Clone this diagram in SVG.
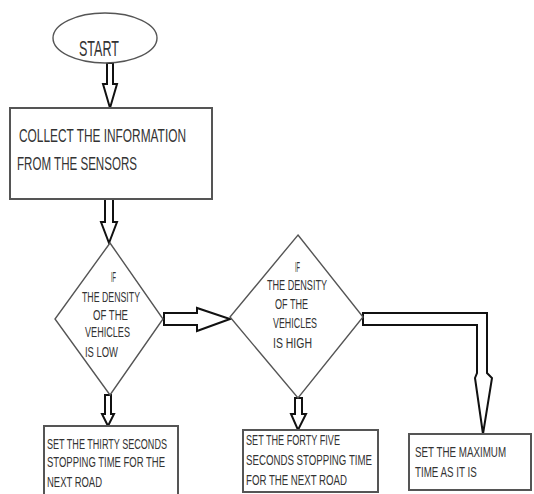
<svg xmlns="http://www.w3.org/2000/svg" width="534" height="494" viewBox="0 0 534 494">
<style>
  .shape { fill: #ffffff; stroke: #555555; stroke-width: 1.4; }
  .box { fill: #ffffff; stroke: #555555; stroke-width: 2; }
  .blk { fill: #ffffff; stroke: #111111; stroke-width: 2; stroke-linejoin: miter; }
  text { font-family: "Liberation Sans Narrow", "Liberation Sans", Arial, sans-serif; fill: #333333; }
  .t13 { font-size: 14px; }
  .t17 { font-size: 18px; }
</style>
<rect x="0" y="0" width="534" height="494" fill="#ffffff"/>
<g id="connectors">
  <polygon class="blk" points="107,63 113,63 113,84 117,84 110,108 103,84 107,84"/>
  <polygon class="blk" points="105,199 113,199 113,222 117,222 109,243 101,222 105,222"/>
  <polygon class="blk" points="164,313 197,313 197,308 230,319 197,331 197,325 164,325"/>
  <polygon class="blk" points="105,395 111,395 111,414 114,414 108,426 102,414 105,414"/>
  <polygon class="blk" points="295,398 302,398 302,414 306,414 298,430 291,414 295,414"/>
  <polygon class="blk" points="363,313 487,313 487,373 492,378 483,434 475,378 477,373 477,325 363,325"/>
</g>
<g id="start">
  <ellipse class="shape" cx="105" cy="38" rx="52" ry="25"/>
  <text x="79" y="56" font-size="22" textLength="40" lengthAdjust="spacingAndGlyphs">START</text>
</g>
<g id="collect">
  <rect class="box" x="10" y="108" width="202" height="91"/>
  <text class="t17" x="19" y="142" textLength="167" lengthAdjust="spacingAndGlyphs">COLLECT THE INFORMATION</text>
  <text class="t17" x="17" y="170" textLength="120" lengthAdjust="spacingAndGlyphs">FROM THE SENSORS</text>
</g>
<g id="decision-low">
  <polygon class="shape" points="110,243 163,319 110,395 55,319"/>
  <text class="t13" x="111" y="282" textLength="5" lengthAdjust="spacingAndGlyphs">IF</text>
  <text class="t13" x="82" y="302" textLength="58" lengthAdjust="spacingAndGlyphs">THE DENSITY</text>
  <text class="t13" x="93" y="320" textLength="35" lengthAdjust="spacingAndGlyphs">OF THE</text>
  <text class="t13" x="85" y="337" textLength="45" lengthAdjust="spacingAndGlyphs">VEHICLES</text>
  <text class="t13" x="85" y="357" textLength="33" lengthAdjust="spacingAndGlyphs">IS LOW</text>
</g>
<g id="decision-high">
  <polygon class="shape" points="298,235 363,317 298,398 230,317"/>
  <text class="t13" x="295" y="272" textLength="5" lengthAdjust="spacingAndGlyphs">IF</text>
  <text class="t13" x="267" y="290" textLength="60" lengthAdjust="spacingAndGlyphs">THE DENSITY</text>
  <text class="t13" x="275" y="309" textLength="33" lengthAdjust="spacingAndGlyphs">OF THE</text>
  <text class="t13" x="273" y="328" textLength="44" lengthAdjust="spacingAndGlyphs">VEHICLES</text>
  <text class="t13" x="273" y="348" textLength="39" lengthAdjust="spacingAndGlyphs">IS HIGH</text>
</g>
<g id="thirty">
  <rect class="box" x="44" y="426" width="134" height="72"/>
  <text class="t13" x="47" y="449" textLength="120" lengthAdjust="spacingAndGlyphs">SET THE THIRTY SECONDS</text>
  <text class="t13" x="47" y="467" textLength="118" lengthAdjust="spacingAndGlyphs">STOPPING TIME FOR THE</text>
  <text class="t13" x="47" y="487" textLength="55" lengthAdjust="spacingAndGlyphs">NEXT ROAD</text>
</g>
<g id="fortyfive">
  <rect class="box" x="243" y="430" width="135" height="62"/>
  <text class="t13" x="246" y="445" textLength="94" lengthAdjust="spacingAndGlyphs">SET THE FORTY FIVE</text>
  <text class="t13" x="246" y="465" textLength="126" lengthAdjust="spacingAndGlyphs">SECONDS STOPPING TIME</text>
  <text class="t13" x="246" y="485" textLength="101" lengthAdjust="spacingAndGlyphs">FOR THE NEXT ROAD</text>
</g>
<g id="maximum">
  <rect class="box" x="409" y="434" width="122" height="56"/>
  <text class="t13" transform="translate(415,457) scale(0.7,1)" x="0" y="0">SET THE MAXIMUM</text>
  <text class="t13" transform="translate(415,477) scale(0.7,1)" x="0" y="0">TIME AS IT IS</text>
</g>
</svg>
